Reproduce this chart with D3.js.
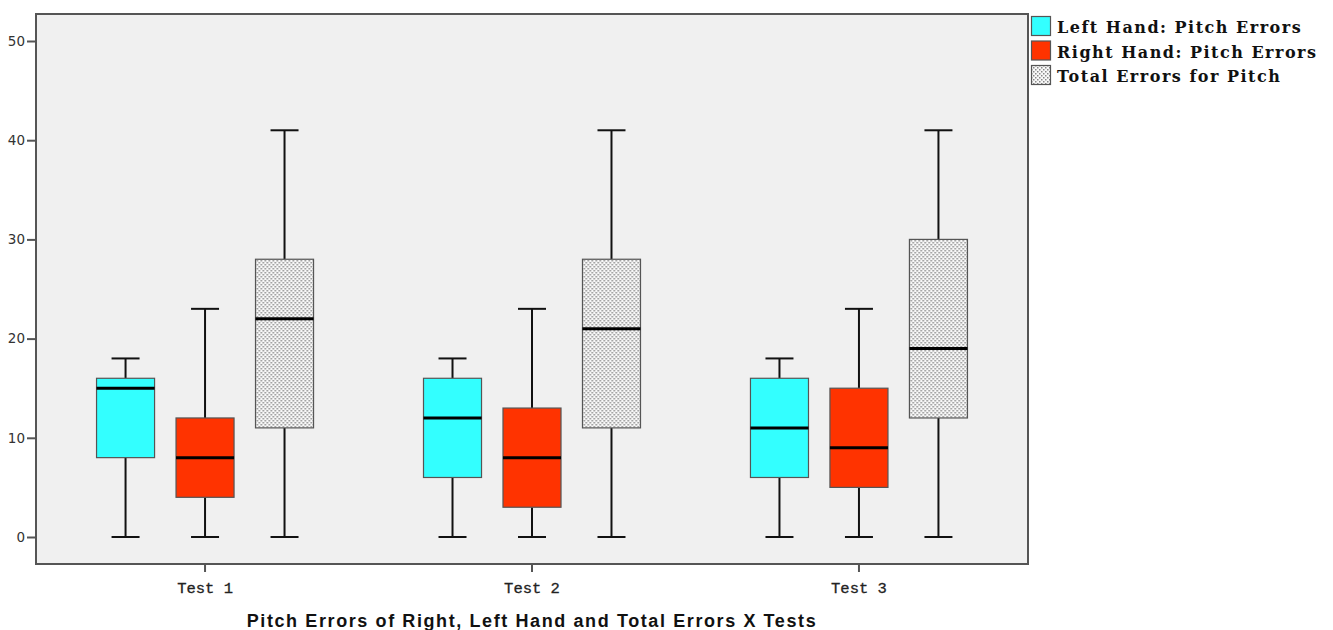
<!DOCTYPE html>
<html>
<head>
<meta charset="utf-8">
<script src="https://cdn.jsdelivr.net/npm/d3@7"></script>
<style>
body { margin: 0; background: #fff; }
</style>
</head>
<body>
<script>
var tests = ["Test 1", "Test 2", "Test 3"];
var seriesNames = ["Left Hand: Pitch Errors", "Right Hand: Pitch Errors", "Total Errors for Pitch"];
// [min, q1, median, q3, max] per test
var leftHand = [[0, 8, 15, 16, 18], [0, 6, 12, 16, 18], [0, 6, 11, 16, 18]];
var rightHand = [[0, 4, 8, 12, 23], [0, 3, 8, 13, 23], [0, 5, 9, 15, 23]];
var totalPitch = [[0, 11, 22, 28, 41], [0, 11, 21, 28, 41], [0, 12, 19, 30, 41]];
var yTicks = [0, 10, 20, 30, 40, 50];
var title = "Pitch Errors of Right, Left Hand and Total Errors X Tests";

var fills = ["#33ffff", "#ff3300", "url(#dots)"];
var allSeries = [leftHand, rightHand, totalPitch];

var svg = d3.select("body").append("svg").attr("width", 1333).attr("height", 630);

var pat = svg.append("defs").append("pattern")
    .attr("id", "dots").attr("width", 4).attr("height", 4)
    .attr("patternUnits", "userSpaceOnUse");
pat.append("rect").attr("width", 4).attr("height", 4).attr("fill", "#f8f8f8");
pat.append("rect").attr("x", 0).attr("y", 0).attr("width", 1.5).attr("height", 1.5).attr("fill", "#888");
pat.append("rect").attr("x", 2).attr("y", 2).attr("width", 1.5).attr("height", 1.5).attr("fill", "#888");

var plotL = 36, plotR = 1028, plotT = 14, plotB = 564;

var y = d3.scaleLinear().domain([0, 50]).range([537, 41]);
var x = d3.scaleBand().domain(tests).range([plotL, plotR]).paddingOuter(0.017).paddingInner(0);
var inner = d3.scaleBand().domain([0, 1, 2]).range([-108.5, 108.5]).paddingInner(0.27).paddingOuter(0);

svg.append("rect").attr("x", plotL).attr("y", plotT)
    .attr("width", plotR - plotL).attr("height", plotB - plotT)
    .attr("fill", "#f0f0f0").attr("stroke", "#555").attr("stroke-width", 2);

// y axis
var yAxis = svg.append("g").attr("transform", "translate(" + plotL + ",0)")
    .call(d3.axisLeft(y).tickValues(yTicks).tickSize(9).tickPadding(2));
yAxis.select(".domain").remove();
yAxis.selectAll(".tick line").attr("stroke", "#555").attr("stroke-width", 2);
yAxis.selectAll(".tick text").attr("font-family", "DejaVu Sans").attr("font-size", 13.5).attr("fill", "#333");

// x axis
var xAxis = svg.append("g").attr("transform", "translate(0," + plotB + ")")
    .call(d3.axisBottom(x).tickSize(8).tickPadding(10));
xAxis.select(".domain").remove();
xAxis.selectAll(".tick line").attr("stroke", "#555").attr("stroke-width", 2);
xAxis.selectAll(".tick text").attr("font-family", "Liberation Mono").attr("font-size", 15.5)
    .attr("fill", "#222").attr("stroke", "#222").attr("stroke-width", 0.3);

// boxes
allSeries.forEach(function(series, s) {
    var g = svg.append("g").selectAll("g").data(series).enter().append("g")
        .attr("transform", function(d, i) {
            return "translate(" + (x(tests[i]) + x.bandwidth() / 2 + inner(s) + inner.bandwidth() / 2) + ",0)";
        });
    var bw = inner.bandwidth();
    var cap = 28;
    g.append("line").attr("x1", 0).attr("x2", 0)
        .attr("y1", function(d) { return y(d[0]); }).attr("y2", function(d) { return y(d[1]); })
        .attr("stroke", "#111").attr("stroke-width", 2);
    g.append("line").attr("x1", 0).attr("x2", 0)
        .attr("y1", function(d) { return y(d[3]); }).attr("y2", function(d) { return y(d[4]); })
        .attr("stroke", "#111").attr("stroke-width", 2);
    g.append("line").attr("x1", -cap / 2).attr("x2", cap / 2)
        .attr("y1", function(d) { return y(d[0]); }).attr("y2", function(d) { return y(d[0]); })
        .attr("stroke", "#111").attr("stroke-width", 2);
    g.append("line").attr("x1", -cap / 2).attr("x2", cap / 2)
        .attr("y1", function(d) { return y(d[4]); }).attr("y2", function(d) { return y(d[4]); })
        .attr("stroke", "#111").attr("stroke-width", 2);
    g.append("rect").attr("x", -bw / 2).attr("width", bw)
        .attr("y", function(d) { return y(d[3]); })
        .attr("height", function(d) { return y(d[1]) - y(d[3]); })
        .attr("fill", fills[s]).attr("stroke", "#555").attr("stroke-width", 1.2);
    g.append("line").attr("x1", -bw / 2).attr("x2", bw / 2)
        .attr("y1", function(d) { return y(d[2]); }).attr("y2", function(d) { return y(d[2]); })
        .attr("stroke", "#000").attr("stroke-width", 3);
});

// legend
var leg = svg.append("g").selectAll("g").data(seriesNames).enter().append("g")
    .attr("transform", function(d, i) { return "translate(1031," + (16 + i * 24.5) + ")"; });
leg.append("rect").attr("x", 0.5).attr("y", 0.5).attr("width", 19).attr("height", 19)
    .attr("fill", function(d, i) { return fills[i]; }).attr("stroke", "#555").attr("stroke-width", 1.2);
leg.append("text").attr("x", 26).attr("y", 17)
    .attr("font-family", "DejaVu Serif").attr("font-weight", "bold").attr("font-size", 16)
    .attr("letter-spacing", 1.5)
    .attr("fill", "#111").text(function(d) { return d; });

svg.append("text").attr("x", 532).attr("y", 627).attr("text-anchor", "middle")
    .attr("font-family", "Liberation Sans").attr("font-weight", "bold").attr("font-size", 18)
    .attr("letter-spacing", 1.6)
    .attr("fill", "#111").text(title);
</script>
</body>
</html>
